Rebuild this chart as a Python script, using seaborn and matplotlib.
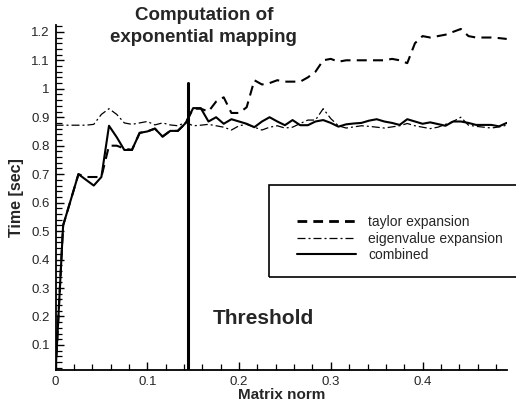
import numpy as np
import pandas as pd
import matplotlib
matplotlib.use("Agg")
import matplotlib.pyplot as plt
from matplotlib.lines import Line2D
from matplotlib.patches import Rectangle
from matplotlib.ticker import MultipleLocator, FuncFormatter
import seaborn as sns

# matrix norm samples
norm = [0, 0.0083, 0.0167, 0.025, 0.0333, 0.0417, 0.05, 0.0583, 0.0667, 0.075,
        0.0833, 0.0917, 0.1, 0.1083, 0.1167, 0.125, 0.1333, 0.1417, 0.15, 0.1583,
        0.1667, 0.175, 0.1833, 0.1917, 0.2, 0.2083, 0.2167, 0.225, 0.2333, 0.2417,
        0.25, 0.2583, 0.2667, 0.275, 0.2833, 0.2917, 0.3, 0.3083, 0.3167, 0.325,
        0.3333, 0.3417, 0.35, 0.3583, 0.3667, 0.375, 0.3833, 0.3917, 0.4, 0.4083,
        0.4167, 0.425, 0.4333, 0.4417, 0.45, 0.4583, 0.4667, 0.475, 0.4833, 0.4917]

taylor = [0.0, 0.52, 0.61, 0.70, 0.69, 0.69, 0.69, 0.80, 0.80, 0.79,
          0.785, 0.845, 0.85, 0.86, 0.832, 0.852, 0.852, 0.879, 0.93, 0.93,
          0.92, 0.955, 0.97, 0.915, 0.915, 0.935, 1.03, 1.015, 1.02, 1.03,
          1.025, 1.025, 1.025, 1.04, 1.06, 1.10, 1.105, 1.095, 1.10, 1.10,
          1.10, 1.10, 1.10, 1.10, 1.105, 1.10, 1.09, 1.16, 1.185, 1.18,
          1.185, 1.19, 1.20, 1.21, 1.185, 1.18, 1.18, 1.18, 1.178, 1.175]

eigen = [0.872, 0.872, 0.872, 0.872, 0.872, 0.875, 0.91, 0.93, 0.91, 0.88,
         0.875, 0.88, 0.885, 0.873, 0.88, 0.873, 0.87, 0.882, 0.87, 0.872,
         0.875, 0.87, 0.865, 0.855, 0.87, 0.875, 0.865, 0.855, 0.865, 0.87,
         0.862, 0.865, 0.878, 0.89, 0.89, 0.93, 0.895, 0.87, 0.862, 0.866,
         0.87, 0.868, 0.865, 0.862, 0.866, 0.87, 0.878, 0.87, 0.865, 0.86,
         0.865, 0.875, 0.885, 0.90, 0.872, 0.868, 0.865, 0.862, 0.866, 0.872]

combined = [0.0, 0.52, 0.61, 0.70, 0.68, 0.66, 0.69, 0.87, 0.83, 0.785,
            0.785, 0.845, 0.85, 0.86, 0.832, 0.852, 0.852, 0.879, 0.932, 0.932,
            0.885, 0.90, 0.877, 0.893, 0.885, 0.877, 0.865, 0.885, 0.90, 0.885,
            0.872, 0.89, 0.872, 0.872, 0.885, 0.89, 0.88, 0.867, 0.875, 0.878,
            0.88, 0.888, 0.893, 0.885, 0.88, 0.873, 0.893, 0.885, 0.877, 0.882,
            0.876, 0.87, 0.885, 0.885, 0.88, 0.873, 0.873, 0.873, 0.868, 0.88]

labels = ["taylor expansion", "eigenvalue expansion", "combined"]
threshold = 0.1445
threshold_top = 1.02

sns.set_style("ticks")
plt.rcParams['font.family'] = ['Liberation Sans', 'DejaVu Sans']

df = pd.DataFrame({"norm": norm, "taylor": taylor, "eigen": eigen, "combined": combined})

fig = plt.figure(figsize=(5.16, 4.03), dpi=100)
ax = fig.add_axes([55.5 / 516, 33 / 403, 451.5 / 516, 345 / 403])

dash_t = (0, (4.8, 3.0))
dash_e = (0, (6.4, 2.4, 1.6, 2.4))
sns.lineplot(data=df, x="norm", y="taylor", ax=ax, color="black", lw=1.5, linestyle=dash_t)
sns.lineplot(data=df, x="norm", y="eigen", ax=ax, color="black", lw=0.9, linestyle=dash_e)
sns.lineplot(data=df, x="norm", y="combined", ax=ax, color="black", lw=1.5)

ax.plot([threshold, threshold], [0, threshold_top], color="black", lw=2.2)

ax.set_xlim(0, 0.492)
ax.set_ylim(0.012, 1.224)
sns.despine(ax=ax)
for s in ["left", "bottom"]:
    ax.spines[s].set_linewidth(1.3)
    ax.spines[s].set_color("black")

ax.xaxis.set_major_locator(MultipleLocator(0.1))
ax.xaxis.set_minor_locator(MultipleLocator(0.02))
ax.yaxis.set_major_locator(MultipleLocator(0.1))
ax.yaxis.set_minor_locator(MultipleLocator(0.02))
fmt = FuncFormatter(lambda v, p: "%g" % round(v, 3))
ax.xaxis.set_major_formatter(fmt)
ax.yaxis.set_major_formatter(fmt)
ax.tick_params(which="major", direction="in", length=5.8, width=1, labelsize=9.5, pad=4, color="black")
ax.tick_params(which="minor", direction="in", length=4.2, width=0.9, color="black")

ax.set_xlabel("Matrix norm", fontsize=11, fontweight="bold", labelpad=0)
ax.set_ylabel("Time [sec]", fontsize=11.5, fontweight="bold", labelpad=5)

fig.text(0.395, 0.982, "Computation of\nexponential mapping", ha="center", va="top",
         fontsize=13.5, fontweight="bold", linespacing=1.35)
ax.text(0.1718, 0.174, "Threshold", fontsize=15, fontweight="bold", ha="left", va="baseline")

ax.add_patch(Rectangle((0.4729, 0.2696), 0.56, 0.2667, transform=ax.transAxes,
                       fill=False, edgecolor="black", lw=1.2, clip_on=False))
handles = [Line2D([], [], color="black", lw=2, linestyle=(0, (3.5, 2.2))),
           Line2D([], [], color="black", lw=0.9, linestyle=dash_e),
           Line2D([], [], color="black", lw=1.5)]
ax.legend(handles, labels, loc="upper left", bbox_to_anchor=(0.519, 0.47), frameon=False,
          fontsize=10, borderpad=0, handlelength=4.3, handletextpad=0.85, labelspacing=0.2)

fig.savefig("out.png", dpi=100)
